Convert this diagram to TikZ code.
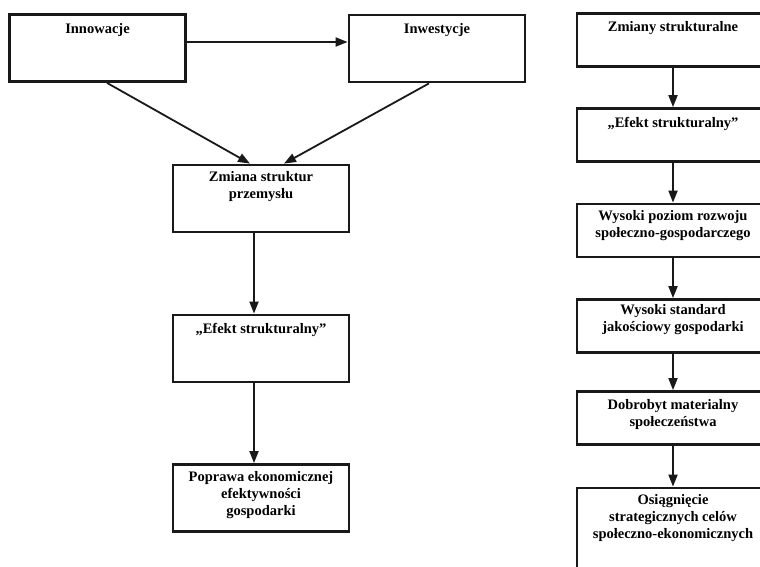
\documentclass[tikz,border=0pt]{standalone}
\usepackage{fontspec}
\setmainfont{Liberation Serif}
\usetikzlibrary{arrows.meta}

\begin{document}
\begin{tikzpicture}[x=1pt,y=-1pt,
  box/.style={draw=black!90, line width=2.8pt, fill=white, inner sep=0pt},
  lbox/.style={box, minimum width=176pt, minimum height=67pt},
  rbox/.style={box, minimum width=192pt, minimum height=53pt},
  lbl/.style={inner sep=0pt, anchor=north, align=center,
    font=\fontsize{14.5}{17}\selectfont\bfseries,
    execute at begin node=\strut},
  arr/.style={line width=1.8pt, draw=black!90,
    -{Triangle[length=12pt,width=9pt]}}]

\useasboundingbox (0,0) rectangle (760,567);
\clip (0,0) rectangle (760,567);
\fill[white] (0,0) rectangle (760,567);

% left scheme
\node[lbox] (inn) at (97.5,48) {};
\node[lbox] (inw) at (437,48.5) {};
\node[lbox] (zm)  at (261,198.5) {};
\node[lbox] (ef)  at (261,348.5) {};
\node[lbox] (pop) at (261,498) {};

\node[lbl] at ([yshift=-8pt]inn.north) {Innowacje};
\node[lbl] at ([yshift=-8pt]inw.north) {Inwestycje};
\node[lbl] at ([yshift=-8pt]zm.north)  {Zmiana struktur\\przemysłu};
\node[lbl] at ([yshift=-8pt]ef.north)  {„Efekt strukturalny”};
\node[lbl] at ([yshift=-8.5pt]pop.north) {Poprawa ekonomicznej\\efektywności\\gospodarki};

\draw[arr] (inn.east |- 0,42) -- (inw.west |- 0,42);
\draw[arr] (inn.south -| 107,0) -- (zm.north -| 250,0);
\draw[arr] (inw.south -| 429,0) -- (zm.north -| 284,0);
\draw[arr] (zm.south -| 254,0) -- (ef.north -| 254,0);
\draw[arr] (ef.south -| 254,0) -- (pop.north -| 254,0);

% right scheme
\node[rbox] (r1) at (673,40) {};
\node[rbox] (r2) at (673,135) {};
\node[rbox] (r3) at (673,230.5) {};
\node[rbox] (r4) at (673,326) {};
\node[rbox] (r5) at (673,418) {};
\node[box, minimum width=192pt, minimum height=90pt] (r6) at (673,533) {};

\node[lbl] at ([yshift=-7pt]r1.north) {Zmiany strukturalne};
\node[lbl] at ([yshift=-8pt]r2.north) {„Efekt strukturalny”};
\node[lbl] at ([yshift=-8pt]r3.north) {Wysoki poziom rozwoju\\społeczno-gospodarczego};
\node[lbl] at ([yshift=-6.5pt]r4.north) {Wysoki standard\\jakościowy gospodarki};
\node[lbl] at ([yshift=-9pt]r5.north) {Dobrobyt materialny\\społeczeństwa};
\node[lbl] at ([yshift=-8pt]r6.north) {Osiągnięcie\\strategicznych celów\\społeczno-ekonomicznych};

\draw[arr] (r1) -- (r2);
\draw[arr] (r2) -- (r3);
\draw[arr] (r3) -- (r4);
\draw[arr] (r4) -- (r5);
\draw[arr] (r5) -- (r6);

\end{tikzpicture}
\end{document}
